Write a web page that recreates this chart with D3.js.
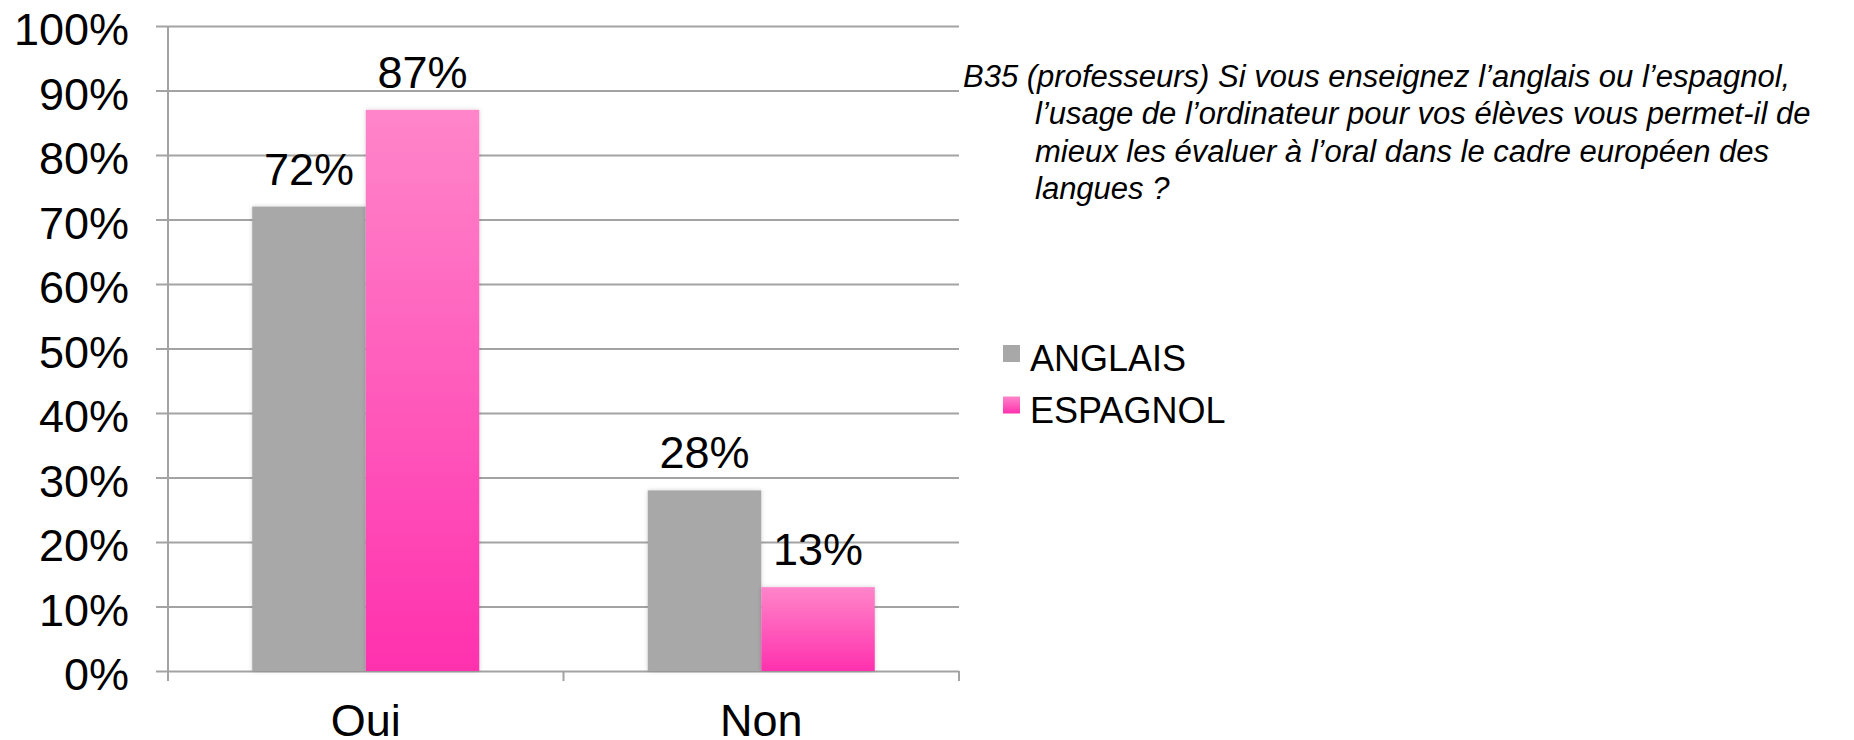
<!DOCTYPE html>
<html>
<head>
<meta charset="utf-8">
<script src="https://cdn.jsdelivr.net/npm/d3@7"></script>
<style>
  html, body { margin: 0; padding: 0; background: #fff; }
  svg { display: block; font-family: "Liberation Sans", Arial, Helvetica, sans-serif; }
</style>
</head>
<body>
<div id="chart"></div>
<script>
// data
const categories = ["Oui", "Non"];
const seriesNames = ["ANGLAIS", "ESPAGNOL"];
const anglais = [72, 28];
const espagnol = [87, 13];
const yTicks = [0, 10, 20, 30, 40, 50, 60, 70, 80, 90, 100];
const titleLines = [
    "B35 (professeurs) Si vous enseignez l\u2019anglais ou l\u2019espagnol,",
    "l\u2019usage de l\u2019ordinateur pour vos \u00e9l\u00e8ves vous permet-il de",
    "mieux les \u00e9valuer \u00e0 l\u2019oral dans le cadre europ\u00e9en des",
    "langues ?"
];

const width = 1854, height = 740;
const plot = { left: 168, right: 959, top: 26, bottom: 671 };
const gridColor = "#a3a3a3";
const grey = "#a8a8a8";

const svg = d3.select("#chart").append("svg")
    .attr("width", width)
    .attr("height", height);

const defs = svg.append("defs");
const grad = defs.append("linearGradient")
    .attr("id", "pinkGrad")
    .attr("x1", 0).attr("y1", 0).attr("x2", 0).attr("y2", 1);
grad.append("stop").attr("offset", "0%").attr("stop-color", "#ff85c9");
grad.append("stop").attr("offset", "100%").attr("stop-color", "#ff31ae");

const shadow = defs.append("filter").attr("id", "barShadow")
    .attr("x", "-10%").attr("y", "-10%").attr("width", "120%").attr("height", "120%");
shadow.append("feDropShadow")
    .attr("dx", 0).attr("dy", 0).attr("stdDeviation", 2)
    .attr("flood-color", "#000").attr("flood-opacity", 0.18);

const y = d3.scaleLinear().domain([0, 100]).range([plot.bottom, plot.top]);
const x0 = d3.scaleBand().domain(categories).range([plot.left, plot.right]);
const x1 = d3.scaleBand().domain(seriesNames)
    .range([0, x0.bandwidth()])
    .paddingInner(0).paddingOuter(0.742);
const color = d3.scaleOrdinal().domain(seriesNames).range([grey, "url(#pinkGrad)"]);

// y axis + gridlines
const yAxis = d3.axisLeft(y)
    .tickValues(yTicks)
    .tickFormat(d => d + "%")
    .tickSizeInner(-(plot.right - plot.left + 12))
    .tickSizeOuter(0)
    .tickPadding(27);

const yG = svg.append("g")
    .attr("transform", `translate(${plot.left - 12},0)`)
    .call(yAxis);
yG.select(".domain").remove();
yG.selectAll(".tick line").attr("stroke", gridColor).attr("stroke-width", 2);
yG.selectAll(".tick text")
    .attr("dy", "0.42em")
    .attr("fill", "#000")
    .style("font-size", "45px")
    .style("font-family", "'Liberation Sans', Arial, sans-serif");

// vertical axis line
svg.append("line")
    .attr("x1", plot.left).attr("x2", plot.left)
    .attr("y1", plot.top).attr("y2", plot.bottom + 10)
    .attr("stroke", gridColor).attr("stroke-width", 2);

// category boundary ticks
const boundaries = categories.map(c => x0(c)).concat([x0.range()[1]]);
svg.append("g").selectAll("line")
    .data(boundaries.slice(1))
    .join("line")
    .attr("x1", d => d).attr("x2", d => d)
    .attr("y1", plot.bottom).attr("y2", plot.bottom + 10)
    .attr("stroke", gridColor).attr("stroke-width", 2);

// x labels
const xAxis = d3.axisBottom(x0).tickSize(0).tickPadding(33);
const xG = svg.append("g")
    .attr("transform", `translate(0,${plot.bottom})`)
    .call(xAxis);
xG.select(".domain").remove();
xG.selectAll(".tick text")
    .attr("fill", "#000")
    .style("font-size", "45px")
    .style("font-family", "'Liberation Sans', Arial, sans-serif");

// bars
const rows = categories.map((c, i) => ({
    category: c,
    values: [
        { key: "ANGLAIS", value: anglais[i] },
        { key: "ESPAGNOL", value: espagnol[i] }
    ]
}));

const groups = svg.append("g").selectAll("g")
    .data(rows)
    .join("g")
    .attr("transform", d => `translate(${x0(d.category)},0)`);

groups.selectAll("rect")
    .data(d => d.values)
    .join("rect")
    .attr("x", d => x1(d.key))
    .attr("y", d => y(d.value))
    .attr("width", x1.bandwidth())
    .attr("height", d => y(0) - y(d.value))
    .attr("fill", d => color(d.key))
    .attr("filter", "url(#barShadow)");

groups.selectAll("text.value")
    .data(d => d.values)
    .join("text")
    .attr("class", "value")
    .attr("x", d => x1(d.key) + x1.bandwidth() / 2)
    .attr("y", d => y(d.value) - 22)
    .attr("text-anchor", "middle")
    .style("font-size", "45px")
    .text(d => d.value + "%");

// title (question)
const title = svg.append("text")
    .style("font-size", "31px")
    .style("font-style", "italic");
title.selectAll("tspan")
    .data(titleLines)
    .join("tspan")
    .attr("x", (d, i) => i === 0 ? 963 : 1035)
    .attr("y", (d, i) => 86.5 + i * 37.5)
    .text(d => d);

// legend
const legend = svg.append("g").attr("transform", "translate(1003,345)");
const items = legend.selectAll("g")
    .data(seriesNames)
    .join("g")
    .attr("transform", (d, i) => `translate(0,${i * 52.5})`);
items.append("rect")
    .attr("x", 0).attr("y", (d, i) => i === 0 ? 0 : -1)
    .attr("width", 17).attr("height", 17)
    .attr("fill", d => color(d));
items.append("text")
    .attr("x", 27).attr("y", 25.5)
    .style("font-size", "36px")
    .text(d => d);
</script>
</body>
</html>
